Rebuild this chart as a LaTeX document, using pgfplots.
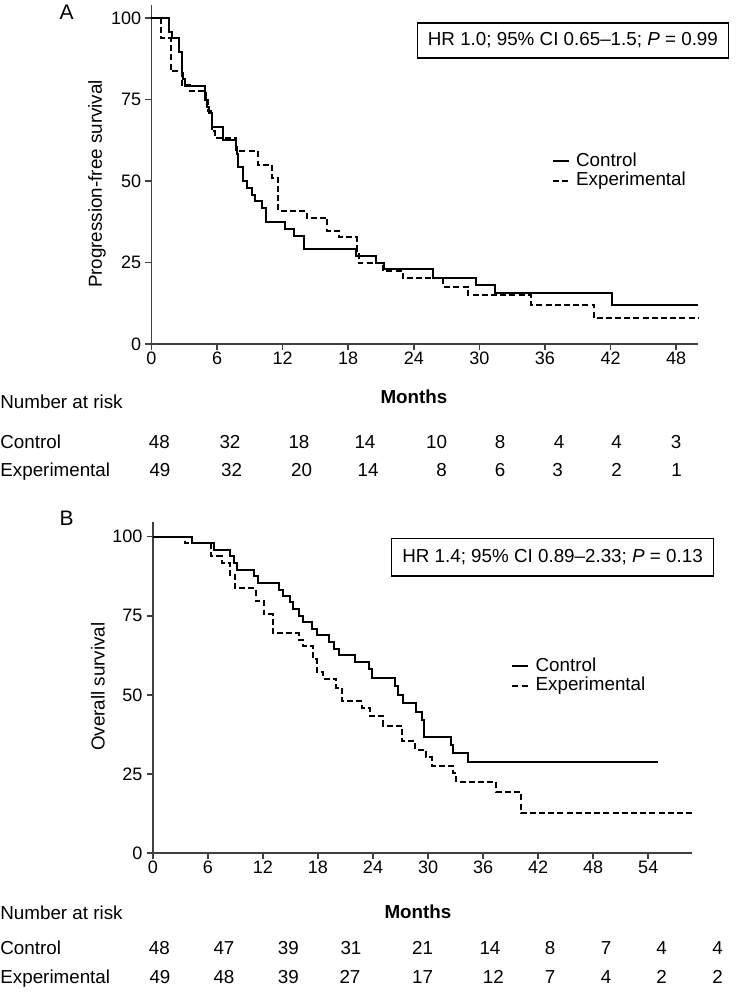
\documentclass[border=0pt]{standalone}
\usepackage{fontspec}
\setmainfont{Liberation Sans}
\usepackage{pgfplots}
\pgfplotsset{compat=1.18}
\newcommand\fs{\fontsize{9.4}{11}\selectfont}
\pgfplotsset{
  km/.style={
    scale only axis,
    axis lines*=left,
    axis line style={black!75, line width=0.8pt},
    tick style={black!75, line width=0.8pt},
    major tick length=3pt,
    tick align=outside,
    ymin=0, xmin=0,
    ytick={0,25,50,75,100},
    tick label style={font=\fontsize{9}{10}\selectfont, /pgf/number format/assume math mode=true},
    yticklabel style={inner sep=2pt},
    xticklabel style={inner sep=1pt},
    clip=false,
    legend cell align=left,
    legend image code/.code={\draw[##1] (0pt,0pt) -- (8pt,0pt);},
    legend style={draw=none, fill=none, anchor=north west, inner sep=0pt,
      column sep=0pt, row sep=0.75pt,
      nodes={inner xsep=3.1pt, inner ysep=0pt, text height=7pt, text depth=2pt},
      font=\fs},
  },
  ctrl/.style={const plot, black, line width=1pt, mark=none},
  expt/.style={const plot, black, line width=1pt, mark=none, dash pattern=on 3pt off 1.6pt},
}
\begin{document}
\begin{tikzpicture}
\useasboundingbox (0pt,0pt) rectangle (368.5pt,-496pt);
% ---------------- Panel A ----------------
\begin{axis}[km, at={(75.75pt,-172pt)}, anchor=south west,
  width=273.25pt, height=169.4pt, xmax=50, ymax=104,
  xtick={0,6,...,48}, legend style={at={(0.732,0.567)}}]
\addplot[ctrl] coordinates {
(0,100) (1.6,95.8) (1.85,93.8) (2.5,89.6) (2.75,83.3) (2.9,81.3) (3.05,79.2)
(4.9,75.0) (5.1,72.9) (5.3,70.8) (5.5,66.7) (6.5,62.5) (7.7,60.4) (7.85,58.3)
(7.95,54.2) (8.35,50.0) (8.75,47.9) (9.15,45.8) (9.5,43.8) (10.15,41.7)
(10.45,37.5) (12.2,35.4) (13.0,33.3) (13.95,29.2) (18.75,27.1) (20.5,25.0)
(21.3,22.9) (25.8,20.4) (29.7,18.2) (31.4,15.7) (42.1,12.0) (50,12.0)};
\addlegendentry{Control}
\addplot[expt] coordinates {
(0,100) (0.86,93.9) (1.75,83.7) (2.75,79.6) (3.5,77.6) (5.0,75.5) (5.2,71.4)
(5.5,65.3) (5.8,63.3) (7.75,59.2) (9.7,55.1) (11.0,51.0) (11.6,40.8)
(14.2,38.8) (16.1,34.7) (17.2,32.7) (18.8,28.6) (18.95,24.8) (21.2,22.4)
(23.0,20.2) (26.7,17.6) (29.0,15.0) (34.7,12.0) (40.5,7.9) (50,7.9)};
\addlegendentry{Experimental}
\end{axis}
% ---------------- Panel B ----------------
\begin{axis}[km, at={(76.4pt,-426.5pt)}, anchor=south west,
  width=269.75pt, height=165.6pt, xmax=58.8, ymax=104.7,
  xtick={0,6,...,54}, legend style={at={(0.664,0.592)}}]
\addplot[ctrl] coordinates {
(0,100) (4.3,97.9) (6.7,95.8) (8.4,93.8) (8.8,91.7) (9.2,89.6) (11.05,87.5)
(11.5,85.4) (13.8,83.3) (14.2,81.3) (14.9,79.2) (15.3,77.1) (15.9,75.0)
(16.4,72.9) (17.3,70.8) (17.9,68.8) (19.2,66.7) (19.7,64.6) (20.3,62.5)
(22.0,60.4) (23.6,58.3) (23.9,55.4) (26.4,52.7) (26.7,50.0) (27.3,47.3)
(28.7,44.6) (29.3,41.9) (29.6,36.8) (32.5,34.1) (32.7,31.5) (34.3,28.7) (55.1,28.7)};
\addlegendentry{Control}
\addplot[expt] coordinates {
(0,100) (3.55,98.0) (6.3,93.9) (7.5,91.8) (8.4,87.8) (9.0,83.7) (11.2,79.6)
(12.1,75.5) (13.1,69.4) (15.9,67.3) (16.4,65.3) (17.5,61.2) (17.9,57.1)
(18.6,55.1) (20.0,52.2) (20.6,47.9) (22.8,45.8) (23.7,43.3) (25.1,40.3)
(27.2,35.4) (28.6,32.6) (29.8,30.4) (30.4,27.6) (32.7,25.2) (33.1,22.5)
(37.4,19.4) (40.1,12.7) (58.8,12.7)};
\addlegendentry{Experimental}
\end{axis}
% ---------------- Text (pixel coordinates) ----------------
\begin{scope}[x=0.5pt, y=-0.5pt, font=\fs]
\node[font=\fontsize{10.5}{12}\selectfont] at (66.7,12.7) {A};
\node[font=\fontsize{10.5}{12}\selectfont] at (66.7,518) {B};
\node[rotate=90] at (97,184) {Progression-free survival};
\node[rotate=90] at (98,686.7) {Overall survival};
\node[draw, line width=0.75pt, minimum width=155.6pt, minimum height=17.5pt, inner sep=0pt]
  at (572.9,40.5) {HR 1.0; 95\% CI 0.65–1.5; \textit{P} = 0.99};
\node[draw, line width=0.75pt, minimum width=160.8pt, minimum height=18.8pt, inner sep=0pt]
  at (552.5,557.2) {HR 1.4; 95\% CI 0.89–2.33; \textit{P} = 0.13};
% risk table A
\node[anchor=base west, inner sep=0pt] at (0,408.7) {Number at risk};
\node[anchor=base, inner sep=0pt] at (414,403.7) {\textbf{Months}};
\node[anchor=base west, inner sep=0pt] at (0,448.4) {Control};
\node[anchor=base west, inner sep=0pt] at (0,476.7) {Experimental};
\foreach \x/\n in {159.3/48,230/32,299/18,365/14,436.7/10,500/8,559/4,616.7/4,676/3}
  \node[anchor=base, inner sep=0pt] at (\x,448.4) {\n};
\foreach \x/\n in {160/49,231.7/32,301.7/20,368/14,441.7/8,500/6,557.7/3,616.7/2,676.7/1}
  \node[anchor=base, inner sep=0pt] at (\x,476.7) {\n};
% risk table B
\node[anchor=base west, inner sep=0pt] at (0,919.7) {Number at risk};
\node[anchor=base, inner sep=0pt] at (418,918.7) {\textbf{Months}};
\node[anchor=base west, inner sep=0pt] at (0,954.7) {Control};
\node[anchor=base west, inner sep=0pt] at (0,983.4) {Experimental};
\foreach \x/\n in {159.3/48,224/47,288.3/39,351/31,422.7/21,490/14,550/8,606/7,661.7/4,717.7/4}
  \node[anchor=base, inner sep=0pt] at (\x,954.7) {\n};
\foreach \x/\n in {160/49,224/48,288.3/39,350/27,422.7/17,493.3/12,550/7,606/4,661.7/2,717.7/2}
  \node[anchor=base, inner sep=0pt] at (\x,983.4) {\n};
\end{scope}
\end{tikzpicture}
\end{document}
